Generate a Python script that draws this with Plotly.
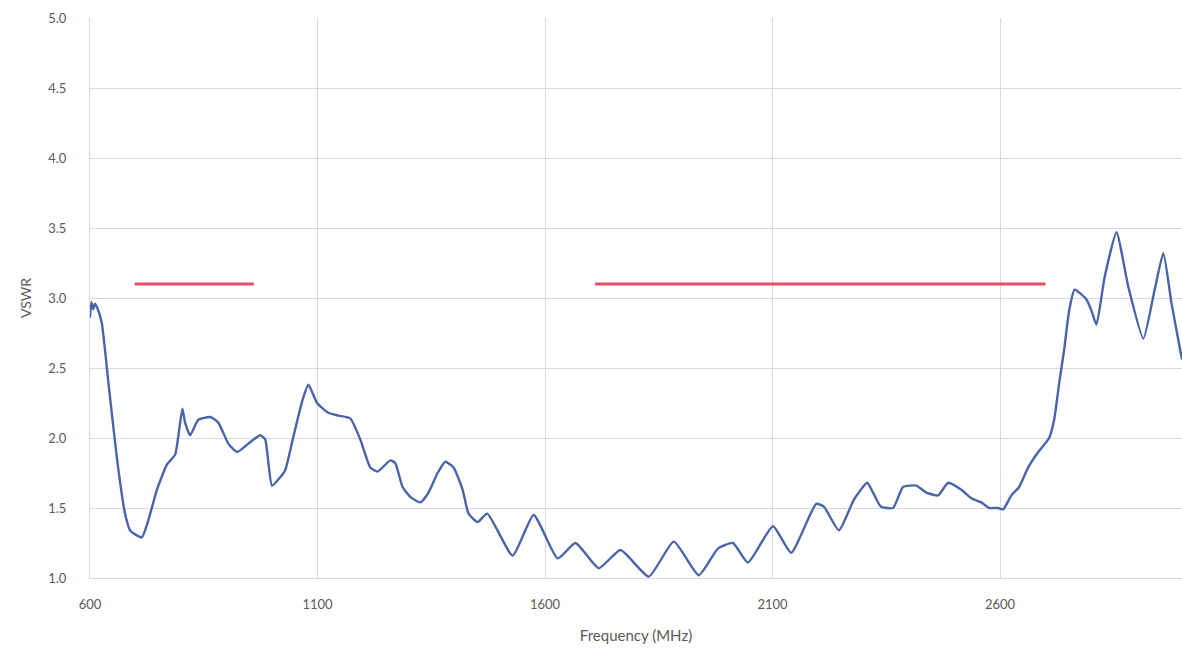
import plotly.graph_objects as go

# Measured VSWR versus frequency
freq_mhz = [600, 603, 607, 611, 616, 626, 640, 659, 677, 688, 700, 714, 728, 747,
            769, 787, 794, 803, 809, 820, 838, 864, 882, 904, 923, 948, 974, 985,
            1000, 1018, 1029, 1047, 1067, 1080, 1099, 1124, 1146, 1172, 1194, 1216,
            1232, 1260, 1271, 1287, 1304, 1326, 1344, 1364, 1381, 1399, 1419, 1432,
            1452, 1473, 1529, 1575, 1628, 1667, 1718, 1766, 1828, 1883, 1938, 1980,
            2013, 2046, 2101, 2141, 2196, 2213, 2246, 2279, 2308, 2321, 2338, 2365,
            2387, 2416, 2438, 2464, 2486, 2515, 2537, 2559, 2576, 2596, 2607, 2625,
            2642, 2662, 2684, 2708, 2719, 2730, 2741, 2752, 2764, 2790, 2801, 2812,
            2830, 2856, 2882, 2915, 2940, 2959, 2977, 3000]
vswr = [2.86, 2.97, 2.92, 2.96, 2.93, 2.82, 2.41, 1.86, 1.46, 1.34, 1.31, 1.29, 1.41, 1.63,
        1.81, 1.88, 2.01, 2.21, 2.11, 2.02, 2.13, 2.15, 2.11, 1.96, 1.90, 1.96, 2.02, 1.99,
        1.66, 1.72, 1.77, 2.01, 2.27, 2.38, 2.25, 2.18, 2.16, 2.14, 1.99, 1.79,
        1.76, 1.84, 1.82, 1.65, 1.58, 1.54, 1.61, 1.75, 1.83, 1.79, 1.63, 1.46,
        1.40, 1.46, 1.16, 1.45, 1.14, 1.25, 1.07, 1.20, 1.01, 1.26, 1.02, 1.21,
        1.25, 1.11, 1.37, 1.18, 1.53, 1.51, 1.34, 1.56, 1.68, 1.61, 1.51, 1.50,
        1.65, 1.66, 1.61, 1.59, 1.68, 1.63, 1.57, 1.54, 1.50, 1.50, 1.49, 1.59,
        1.65, 1.79, 1.90, 2.00, 2.13, 2.39, 2.63, 2.91, 3.06, 2.99, 2.91, 2.81,
        3.15, 3.47, 3.08, 2.71, 3.06, 3.32, 2.96, 2.56]

# Specification limit bands (frequency span, VSWR limit)
band_low = [698, 960]
band_high = [1710, 2700]
vswr_limit = 3.1

x_ticks = [600, 1100, 1600, 2100, 2600]
y_ticks = [1.0, 1.5, 2.0, 2.5, 3.0, 3.5, 4.0, 4.5, 5.0]

grid = "#D9D9D9"
label_color = "#595959"
font_family = "Lato, 'Open Sans', sans-serif"

fig = go.Figure()
for band in (band_low, band_high):
    fig.add_trace(go.Scatter(
        x=band, y=[vswr_limit, vswr_limit], mode="lines",
        line=dict(color="#E04E62", width=3), showlegend=False, hoverinfo="skip"))

fig.add_trace(go.Scatter(
    x=freq_mhz, y=vswr, mode="lines",
    line=dict(color="#4A64A8", width=2.4, shape="spline", smoothing=0.5),
    showlegend=False))

fig.update_layout(
    width=1182, height=658,
    margin=dict(l=90, r=0, t=18, b=80),
    paper_bgcolor="white", plot_bgcolor="white",
    font=dict(family=font_family, color=label_color, size=13),
    xaxis=dict(
        range=[600, 3000], tickvals=x_ticks, ticktext=[str(v) for v in x_ticks],
        showgrid=True, gridcolor=grid, gridwidth=1, zeroline=False,
        showline=True, linecolor=grid, linewidth=1,
        ticks="", ticklabelstandoff=14,
        title=dict(text="Frequency (MHz)", font=dict(size=15, color=label_color), standoff=19),
    ),
    yaxis=dict(
        range=[1.0, 5.0], tickvals=y_ticks, tickformat=".1f",
        showgrid=True, gridcolor=grid, gridwidth=1, zeroline=False,
        showline=True, linecolor=grid, linewidth=1,
        ticks="", ticklabelstandoff=20,
        title=dict(text="VSWR", font=dict(size=14, color=label_color), standoff=13),
    ),
)

fig.write_html("out.html")
